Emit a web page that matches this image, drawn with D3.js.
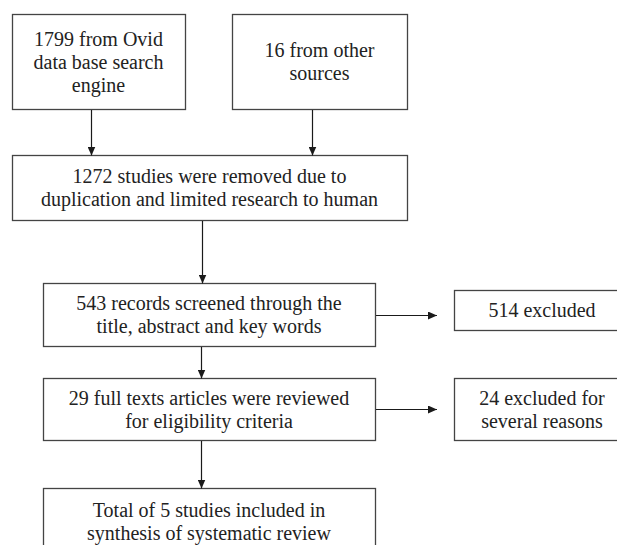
<!DOCTYPE html>
<head>
    <meta charset="utf-8">
    <title>Study selection flow</title>
    <script src="https://cdn.jsdelivr.net/npm/d3@7/dist/d3.min.js"></script>
    <style>
        body { margin: 0; background: #fff; }
    </style>
</head>
<body>
<div id="chart"></div>
<script>
    // box texts, one entry per box
    var ids = ['ovid', 'other', 'dup', 'screen', 'excl1', 'full', 'excl2', 'total'];
    var texts = [
        ['1799 from Ovid', 'data base search', 'engine'],
        ['16 from other', 'sources'],
        ['1272 studies were removed due to', 'duplication and limited research to human'],
        ['543 records screened through the', 'title, abstract and key words'],
        ['514 excluded'],
        ['29 full texts articles were reviewed', 'for eligibility criteria'],
        ['24 excluded for', 'several reasons'],
        ['Total of 5 studies included in', 'synthesis of systematic review']
    ];
    // arrows: [from, to, direction]
    var links = [
        ['ovid', 'dup', 'down'],
        ['other', 'dup', 'down'],
        ['dup', 'screen', 'down'],
        ['screen', 'excl1', 'right'],
        ['screen', 'full', 'down'],
        ['full', 'excl2', 'right'],
        ['full', 'total', 'down']
    ];

    // layout of the boxes (x, y, w, h)
    var layout = {
        ovid:   [12, 14, 173, 95],
        other:  [232, 14, 175, 95],
        dup:    [12, 155, 395, 65],
        screen: [43, 283, 332, 63],
        excl1:  [454, 290, 176, 40],
        full:   [43, 378, 332, 62],
        excl2:  [454, 378, 176, 62],
        total:  [43, 488, 332, 66]
    };

    var width = 617, height = 545;
    var lineH = 23;

    var svg = d3.select('#chart').append('svg')
        .attr('width', width)
        .attr('height', height);

    svg.append('defs').append('marker')
        .attr('id', 'head')
        .attr('viewBox', '0 0 9 8')
        .attr('refX', 9).attr('refY', 4)
        .attr('markerWidth', 9).attr('markerHeight', 8)
        .attr('markerUnits', 'userSpaceOnUse')
        .attr('orient', 'auto')
        .append('path')
        .attr('d', 'M0,0L9,4L0,8Z')
        .attr('fill', '#1a1a1a');

    var nodes = ids.map((id, i) => {
        var l = layout[id];
        return { id: id, lines: texts[i], x: l[0], y: l[1], w: l[2], h: l[3] };
    });
    var byId = {};
    nodes.forEach(n => byId[n.id] = n);

    var g = svg.selectAll('g.box')
        .data(nodes)
        .enter().append('g')
        .attr('class', 'box');

    g.append('rect')
        .attr('x', d => d.x + 0.5)
        .attr('y', d => d.y + 0.5)
        .attr('width', d => d.w)
        .attr('height', d => d.h)
        .attr('fill', '#fff')
        .attr('stroke', '#444')
        .attr('stroke-width', 1.3);

    g.each(function (d) {
        var cx = d.x + d.w / 2;
        var cy = d.y + d.h / 2;
        var n = d.lines.length;
        d3.select(this).selectAll('text')
            .data(d.lines)
            .enter().append('text')
            .attr('x', cx)
            .attr('y', (t, i) => cy + (i - (n - 1) / 2) * lineH)
            .attr('dy', '0.35em')
            .attr('text-anchor', 'middle')
            .attr('font-family', '"Liberation Serif", "Times New Roman", serif')
            .attr('font-size', 20)
            .attr('fill', '#222')
            .text(t => t);
    });

    svg.selectAll('line.arrow')
        .data(links)
        .enter().append('line')
        .attr('class', 'arrow')
        .each(function (l) {
            var s = byId[l[0]], t = byId[l[1]];
            var sel = d3.select(this);
            if (l[2] === 'down') {
                var x = Math.round(s.x + s.w / 2 - 8) + 0.5;
                sel.attr('x1', x).attr('x2', x)
                    .attr('y1', s.y + s.h + 1).attr('y2', t.y + 0.5);
            } else {
                var y = Math.round(s.y + s.h / 2) + 0.5;
                sel.attr('x1', s.x + s.w + 1).attr('x2', t.x - 17)
                    .attr('y1', y).attr('y2', y);
            }
        })
        .attr('stroke', '#1a1a1a')
        .attr('stroke-width', 1.2)
        .attr('marker-end', 'url(#head)');
</script>
</body>
